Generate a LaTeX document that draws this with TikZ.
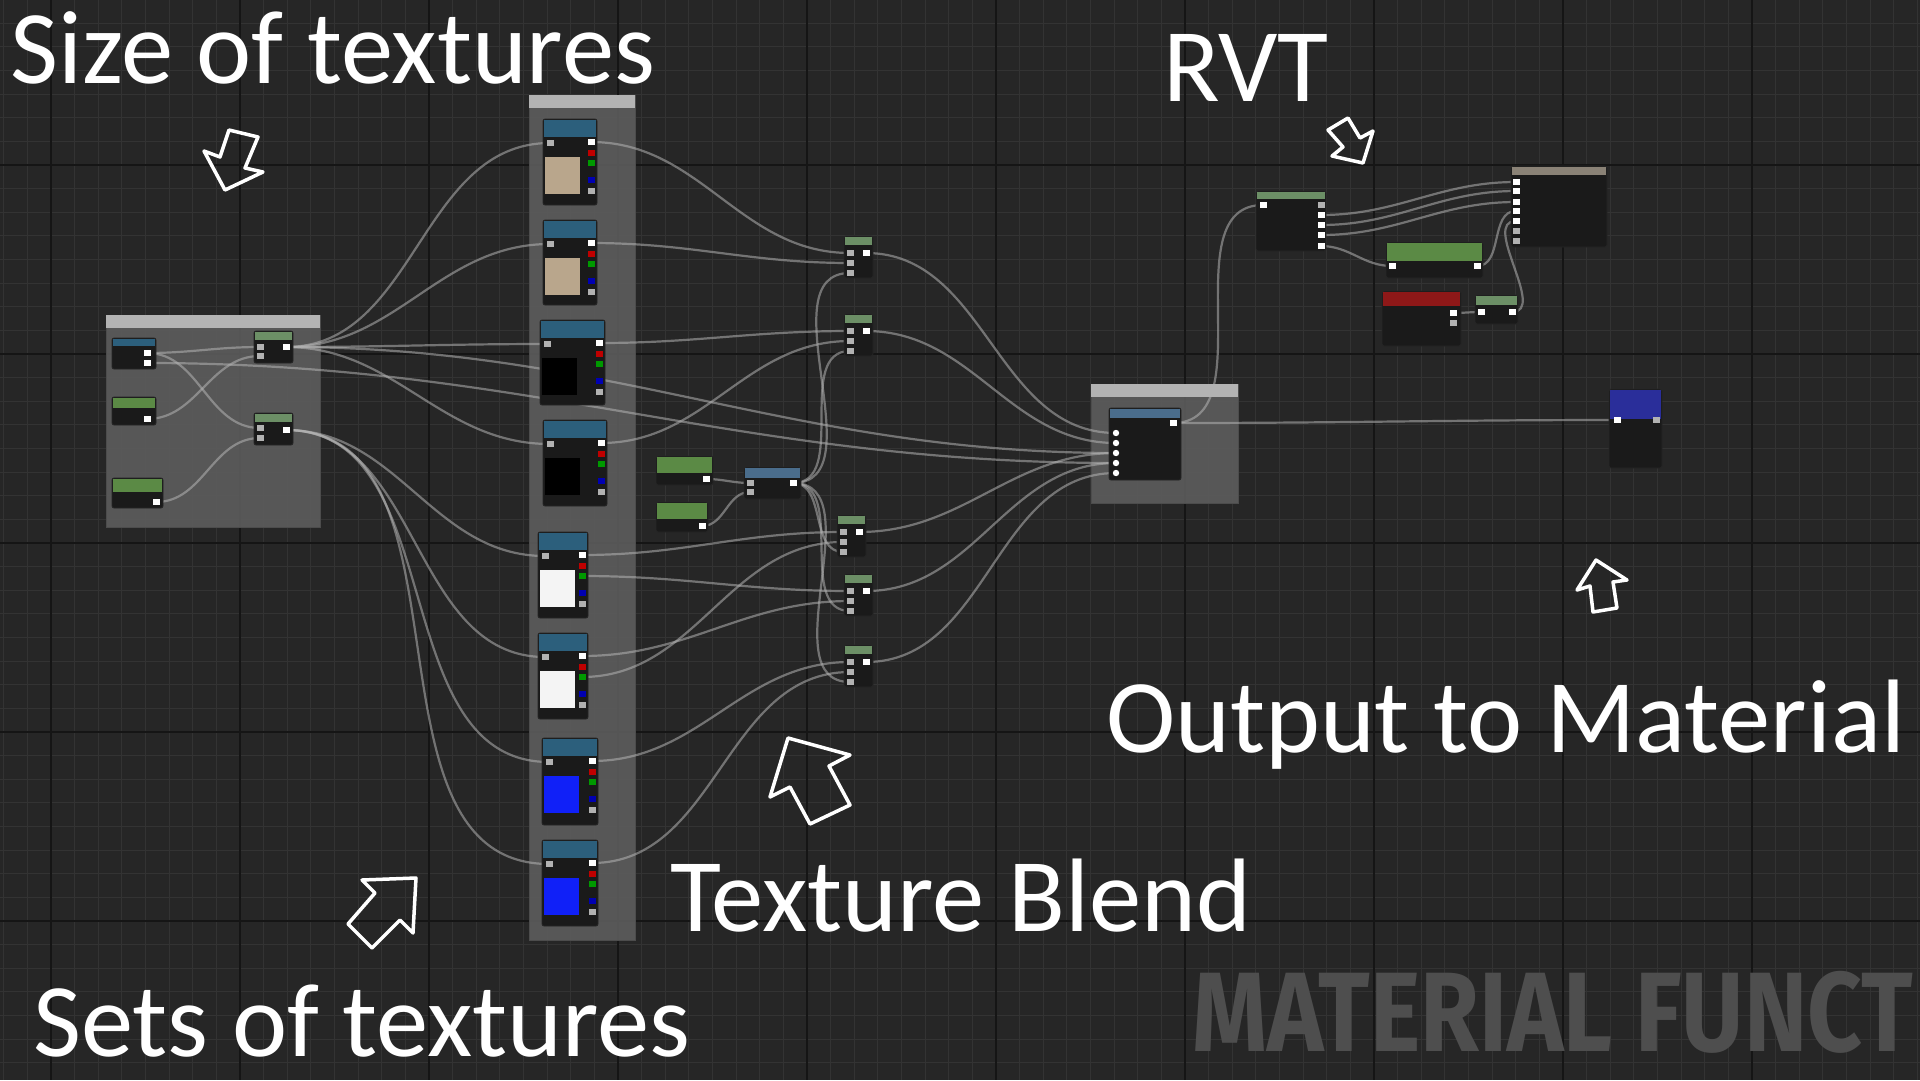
\documentclass[tikz,border=0pt]{standalone}
\usepackage{fontspec}
\newfontfamily\lblfont{Carlito}
\newfontfamily\wmfont{Fira Sans}
\usetikzlibrary{calc}
\pgfdeclarelayer{bg}
\pgfdeclarelayer{wires}
\pgfsetlayers{bg,wires,main}
\definecolor{bgc}{HTML}{262626}
\definecolor{minorc}{HTML}{333333}
\definecolor{majorc}{HTML}{151515}
\definecolor{cmtc}{HTML}{5E5E5E}
\definecolor{cmthdr}{HTML}{B3B3B3}
\definecolor{nbody}{HTML}{1A1A1A}
\definecolor{hteal}{HTML}{2C5F7C}
\definecolor{hgreen}{HTML}{5B8A45}
\definecolor{hgreen2}{HTML}{6C8F66}
\definecolor{hblue}{HTML}{4A6D8C}
\definecolor{hred}{HTML}{8E1818}
\definecolor{htan}{HTML}{8A8276}
\definecolor{hdblue}{HTML}{2A2E9A}
\definecolor{tanc}{HTML}{B9A68C}
\definecolor{bluec}{HTML}{1020F8}
\definecolor{whitec}{HTML}{F4F4F4}
\definecolor{wirec}{HTML}{B4B4B4}
\definecolor{wmc}{HTML}{4E4E4E}
% UE node: name, x1, y1, x2, y2, header height, header colour
\newcommand\uen[7]{%
  \node[uebody, minimum width={(#4)-(#2)}, minimum height={(#5)-(#3)}, anchor=north west] (#1) at (#2,#3) {};%
  \fill[#7] (#2+0.6,#3+0.6) rectangle (#4-0.6,#3+#6);%
}
% pin: name, x, y, style
\newcommand\uep[4]{%
  \coordinate (#1) at (#2,#3);%
  \fill[#4] (#2-3.5,#3-3) rectangle (#2+3.5,#3+3);%
}
\newcommand\uepc[3]{%
  \coordinate (#1) at (#2,#3);%
  \fill[white] (#2,#3) circle (3.2);%
}
% comment box: name, x1, y1, x2, y2
\newcommand\uecmt[5]{%
  \node[cmtstyle, minimum width={(#4)-(#2)}, minimum height={(#5)-(#3)}, anchor=north west] (#1) at (#2,#3) {};%
  \fill[cmthdr] (#2,#3) rectangle (#4,#3+13);%
}
% texture node: name, x1, y1, x2, y2, swatch colour
\newcommand\uetex[6]{%
  \uen{#1}{#2}{#3}{#4}{#5}{18}{hteal}%
  \fill[#6] (#2+2,#3+38) rectangle (#2+37,#3+75);%
  \uep{#1i}{#2+7}{#3+24}{pins}%
  \uep{#1o}{#4-6}{#3+23}{pinw}%
  \uep{#1r}{#4-6}{#3+34}{pinr}%
  \uep{#1g}{#4-6}{#3+44}{ping}%
  \uep{#1b}{#4-6}{#3+61}{pinb}%
  \uep{#1a}{#4-6}{#3+72}{pins}%
}
% lerp node: name, x1, y1
\newcommand\uelerp[3]{%
  \uen{#1}{#2}{#3}{#2+29}{#3+42}{9}{hgreen2}%
  \uep{#1o}{#2+22}{#3+17}{pinw}%
  \uep{#1a}{#2+6}{#3+17}{pins}%
  \uep{#1b}{#2+6}{#3+27}{pins}%
  \uep{#1c}{#2+6}{#3+37}{pins}%
}
\newcommand\uew[2]{\draw[wire] (#1) to[out=0,in=180] (#2);}
\begin{document}
\begin{tikzpicture}[x=1pt,y=-1pt,
  wire/.style={draw=wirec, line width=2.2, draw opacity=0.55, line cap=round},
  uebody/.style={draw=black!85, line width=0.8, fill=nbody, rounded corners=2, inner sep=0, outer sep=0},
  cmtstyle/.style={fill=cmtc, fill opacity=0.88, draw=black!70, line width=1, inner sep=0, outer sep=0},
  pinw/.style={fill=white},
  pinr/.style={fill=red!75!black},
  ping/.style={fill=green!60!black},
  pinb/.style={fill=blue!70!black},
  pins/.style={fill=gray!60},
  lbl/.style={font=\lblfont\fontsize{104.5}{112}\selectfont, text=white, inner sep=0, anchor=base west},
  harrow/.style={draw=white, line width=3.5, line join=round}]
\useasboundingbox (0,0) rectangle (1920,1080);
\begin{pgfonlayer}{bg}
  \fill[bgc] (0,0) rectangle (1920,1080);
  \foreach \i in {0,...,81} \draw[minorc, line width=1] ({3.75+\i*23.625},0) -- ++(0,1080);
  \foreach \i in {1,...,46} \draw[minorc, line width=1] (0,{-0.375+\i*23.625}) -- ++(1920,0);
  \foreach \x in {51,240,...,1752} \draw[majorc, line width=2] (\x,0) -- (\x,1080);
  \foreach \y in {165,354,543,732,921} \draw[majorc, line width=2] (0,\y) -- (1920,\y);
  \node[anchor=base west, inner sep=0, text=wmc, font=\wmfont\bfseries\fontsize{113}{120}\selectfont] (wm) at (1192,1051) {\scalebox{0.845}[1]{MATERIAL FUNCT}};
  \uecmt{cmtl}{106}{315}{320}{527}
  \uecmt{cmtt}{529}{95}{635}{940}
  \uecmt{cmta}{1091}{384}{1238}{503}
\end{pgfonlayer}

% left box nodes
\uen{na}{112}{338}{156}{369}{8}{hteal}
\uep{na1}{147}{353}{pinw}\uep{na2}{147}{363}{pinw}
\uen{nb}{112}{397}{156}{425}{11}{hgreen}
\uep{nbo}{147}{419}{pinw}
\uen{nc}{112}{478}{163}{508}{14}{hgreen}
\uep{nco}{156}{502}{pinw}
\uen{nd}{254}{331}{293}{363}{9}{hgreen2}
\uep{ndo}{286}{347}{pinw}\uep{nd1}{260}{347}{pins}\uep{nd2}{260}{356}{pins}
\uen{ne}{254}{413}{293}{445}{9}{hgreen2}
\uep{neo}{286}{430}{pinw}\uep{ne1}{260}{428}{pins}\uep{ne2}{260}{438}{pins}

% textures
\uetex{t1}{543}{119}{597}{205}{tanc}
\uetex{t2}{543}{220}{597}{305}{tanc}
\uetex{t3}{540}{320}{605}{405}{black}
\uetex{t4}{543}{420}{607}{506}{black}
\uetex{t5}{538}{532}{588}{618}{whitec}
\uetex{t6}{538}{633}{588}{719}{whitec}
\uetex{t7}{542}{738}{598}{825}{bluec}
\uetex{t8}{542}{840}{598}{926}{bluec}

% middle
\uen{g1}{656}{456}{713}{485}{17}{hgreen}
\uep{g1o}{706}{479}{pinw}
\uen{g2}{656}{502}{708}{532}{17}{hgreen}
\uep{g2o}{702}{526}{pinw}
\uen{m}{744}{467}{801}{499}{11}{hblue}
\uep{mo}{793}{483}{pinw}\uep{m1}{750}{483}{pins}\uep{m2}{750}{492}{pins}
\uelerp{l1}{844}{236}
\uelerp{l2}{844}{314}
\uelerp{l3}{837}{515}
\uelerp{l4}{844}{574}
\uelerp{l5}{844}{645}

% adjustments
\uen{an}{1109}{408}{1181}{480}{10}{hblue}
\uep{ano}{1173}{423}{pinw}
\uepc{an1}{1116}{433}\uepc{an2}{1116}{443}\uepc{an3}{1116}{453}\uepc{an4}{1116}{463}\uepc{an5}{1116}{473}

% RVT
\uen{r1}{1256}{191}{1326}{251}{8}{hgreen2}
\uep{r1i}{1263}{205}{pinw}
\uep{r1a}{1321}{205}{pins}\uep{r1b}{1321}{215}{pinw}\uep{r1c}{1321}{225}{pinw}\uep{r1d}{1321}{235}{pinw}\uep{r1e}{1321}{246}{pinw}
\uen{r2}{1511}{166}{1607}{247}{9}{htan}
\uep{r2a}{1516}{182}{pinw}\uep{r2b}{1516}{191}{pinw}\uep{r2c}{1516}{202}{pinw}\uep{r2d}{1516}{211}{pinw}\uep{r2e}{1516}{221}{pinw}\uep{r2f}{1516}{231}{pins}\uep{r2g}{1516}{241}{pins}
\uen{r3}{1386}{242}{1483}{278}{19}{hgreen}
\uep{r3i}{1392}{266}{pinw}\uep{r3o}{1477}{266}{pinw}
\uen{r4}{1382}{291}{1461}{346}{15}{hred}
\uep{r4a}{1453}{313}{pinw}\uep{r4b}{1453}{323}{pins}
\uen{r5}{1475}{295}{1518}{324}{10}{hgreen2}
\uep{r5i}{1481}{312}{pinw}\uep{r5o}{1512}{312}{pinw}

% output
\uen{out}{1609}{389}{1662}{468}{30}{hdblue}
\uep{outi}{1617}{420}{pinw}\uep{outo}{1656}{420}{pins}

\begin{pgfonlayer}{wires}
  \uew{na1}{nd1}\uew{na1}{ne1}\uew{nbo}{nd2}\uew{nco}{ne2}
  \uew{ndo}{t1i}\uew{ndo}{t2i}\uew{ndo}{t3i}\uew{ndo}{t4i}
  \uew{neo}{t5i}\uew{neo}{t6i}\uew{neo}{t7i}\uew{neo}{t8i}
  \uew{na2}{an4}\uew{ndo}{an3}
  \uew{t1o}{l1a}\uew{t2o}{l1b}\uew{t3o}{l2a}\uew{t4o}{l2b}
  \uew{t5o}{l3a}\uew{t6g}{l3b}\uew{t5g}{l4a}\uew{t6o}{l4b}
  \uew{t7o}{l5a}\uew{t8o}{l5b}
  \uew{g1o}{m1}\uew{g2o}{m2}
  \uew{mo}{l1c}\uew{mo}{l2c}\uew{mo}{l3c}\uew{mo}{l4c}\uew{mo}{l5c}
  \uew{l1o}{an1}\uew{l2o}{an2}\uew{l3o}{an3}\uew{l4o}{an4}\uew{l5o}{an5}
  \uew{ano}{r1i}\uew{ano}{outi}
  \uew{r1b}{r2a}\uew{r1c}{r2b}\uew{r1d}{r2c}\uew{r1e}{r3i}
  \uew{r3o}{r2d}\uew{r5o}{r2e}\uew{r4a}{r5i}
\end{pgfonlayer}

% labels
\node[lbl] (lsize) at (10,83) {Size of textures};
\node[lbl] (lrvt) at (1163,101) {RVT};
\node[lbl] (lout) at (1106,752) {Output to Material};
\node[lbl] (lblend) at (670,931) {Texture Blend};
\node[lbl] (lsets) at (33,1056) {Sets of textures};

% hollow arrows
\draw[harrow] (229,130) -- (258,137) -- (245,168) -- (263,172) -- (225,190) -- (204,151) -- (220,157) -- cycle;
\draw[harrow] (1328,130) -- (1348,118) -- (1360,138) -- (1373,131) -- (1363,163) -- (1332,156) -- (1343,147) -- cycle;
\draw[harrow] (788,738) -- (850,755) -- (829,766) -- (850,805) -- (810,824) -- (790,787) -- (770,797) -- cycle;
\draw[harrow] (416,878) -- (362,880) -- (375,893) -- (348,924) -- (372,948) -- (400,920) -- (413,933) -- cycle;
\draw[harrow] (1596,560) -- (1627,580) -- (1613,582) -- (1617,608) -- (1593,612) -- (1590,586) -- (1577,590) -- cycle;
\end{tikzpicture}
\end{document}
